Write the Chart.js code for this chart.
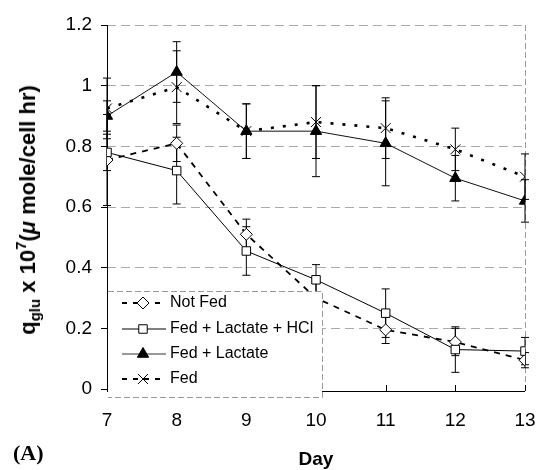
<!DOCTYPE html>
<html>
<head>
<meta charset="utf-8">
<script src="https://cdn.jsdelivr.net/npm/chart.js@4.4.1/dist/chart.umd.min.js"></script>
<style>
html,body{margin:0;padding:0;background:#fff;}
#wrap{position:relative;width:537px;height:470px;}
#ytitle{position:absolute;left:28px;top:210px;transform:translate(-50%,-50%) rotate(-90deg);white-space:nowrap;font:bold 22px "Liberation Sans",Arial,sans-serif;color:#000;}
#ytitle sub{font-size:15px;vertical-align:-5px;line-height:0;}
#ytitle sup{font-size:15px;vertical-align:9px;line-height:0;}
#xtitle{position:absolute;left:316px;top:459px;transform:translate(-50%,-50%);font:bold 19px "Liberation Sans",Arial,sans-serif;}
#panel{position:absolute;left:13px;top:453px;transform:translateY(-50%);font:bold 22px "Liberation Serif","Times New Roman",serif;}
</style>
</head>
<body>
<div id="wrap">
<canvas id="c" width="537" height="470"></canvas>
<div id="ytitle">q<sub>glu</sub> x 10<sup>7</sup>(<i>μ</i> mole/cell hr)</div>
<div id="xtitle">Day</div>
<div id="panel">(A)</div>
</div>
<script>
const days = [7, 8, 9, 10, 11, 12, 13];
const seriesNames = ["Not Fed", "Fed + Lactate + HCl", "Fed + Lactate", "Fed"];
const notFed      = [0.755, 0.81, 0.51, 0.30, 0.195, 0.155, 0.095];
const fedLacHCl   = [0.78, 0.72, 0.455, 0.36, 0.25, 0.13, 0.125];
const fedLac      = [0.90, 1.045, 0.85, 0.85, 0.81, 0.695, 0.62];
const fed         = [0.925, 0.995, 0.85, 0.88, 0.86, 0.79, 0.70];
const errNotFed    = [0.15, 0.06, 0.05, 0.05, 0.045, 0.045, 0.025];
const errFedLacHCl = [0.06, 0.11, 0.08, 0.05, 0.08, 0.075, 0.045];
const errFedLac    = [0.05, 0.10, 0.09, 0.15, 0.14, 0.075, 0.07];
const errFed       = [0.10, 0.12, 0.09, 0.12, 0.10, 0.07, 0.075];
const yTicks = [0, 0.2, 0.4, 0.6, 0.8, 1, 1.2];

const pts = arr => arr.map((v, i) => ({x: days[i], y: v}));
const FONT = '"Liberation Sans", Arial, sans-serif';

const datasets = [
  {label: seriesNames[0], data: pts(notFed), err: errNotFed, borderColor:'#000', borderWidth:1.8, borderDash:[6,6],
   pointStyle:'rectRot', pointRadius:6, pointBackgroundColor:'#fff', pointBorderColor:'#000', pointBorderWidth:1, order:4, legendLine:'#000'},
  {label: seriesNames[1], data: pts(fedLacHCl), err: errFedLacHCl, borderColor:'#000', borderWidth:1,
   pointStyle:'rect', pointRadius:6, pointBackgroundColor:'#fff', pointBorderColor:'#000', pointBorderWidth:1, order:3, legendLine:'#000'},
  {label: seriesNames[2], data: pts(fedLac), err: errFedLac, borderColor:'#111', borderWidth:1,
   pointStyle:'triangle', pointRadius:6.5, pointBackgroundColor:'#000', pointBorderColor:'#000', pointBorderWidth:1, order:2, legendLine:'#999'},
  {label: seriesNames[3], data: pts(fed), err: errFed, borderColor:'#000', borderWidth:2.6, borderDash:[3,9],
   pointStyle:'crossRot', pointRadius:7, pointBackgroundColor:'#000', pointBorderColor:'#000', pointBorderWidth:1, order:1, legendLine:'#000'}
];
datasets.forEach(d => { d.fill = false; d.tension = 0; d.pointHoverRadius = d.pointRadius; });

const errorBars = {
  id: 'errorBars',
  beforeDatasetsDraw(chart) {
    const ctx = chart.ctx, xs = chart.scales.x, ys = chart.scales.y, ca = chart.chartArea;
    ctx.save();
    ctx.strokeStyle = '#000';
    ctx.lineWidth = 1;
    ctx.setLineDash([]);
    ctx.beginPath();
    ctx.moveTo(Math.round(ca.left) + 0.5, ca.top); ctx.lineTo(Math.round(ca.left) + 0.5, ca.bottom + 2);
    ctx.moveTo(ca.left, Math.round(ca.bottom) + 2.5); ctx.lineTo(ca.right, Math.round(ca.bottom) + 2.5);
    ctx.stroke();
    chart.data.datasets.forEach(ds => {
      ds.data.forEach((p, j) => {
        const e = ds.err[j];
        const x = xs.getPixelForValue(p.x);
        const yt = ys.getPixelForValue(p.y + e);
        const yb = ys.getPixelForValue(p.y - e);
        ctx.beginPath();
        ctx.moveTo(x, yt); ctx.lineTo(x, yb);
        ctx.moveTo(x - 4, yt); ctx.lineTo(x + 4, yt);
        ctx.moveTo(x - 4, yb); ctx.lineTo(x + 4, yb);
        ctx.stroke();
      });
    });
    ctx.restore();
  }
};

const extras = {
  id: 'extras',
  afterDraw(chart) {
    const ctx = chart.ctx, ca = chart.chartArea, xs = chart.scales.x;
    ctx.save();
    ctx.strokeStyle = '#000'; ctx.lineWidth = 1;
    days.forEach(d => {
      const x = Math.round(xs.getPixelForValue(d)) + 0.5;
      ctx.beginPath(); ctx.moveTo(x, ca.bottom + 2); ctx.lineTo(x, ca.bottom - 4); ctx.stroke();
    });
    const bx = ca.left + 1, by = ca.bottom - 98, bw = 214, bh = 106;
    ctx.fillStyle = '#fff';
    ctx.fillRect(bx, by, bw, bh);
    ctx.strokeStyle = '#999'; ctx.setLineDash([6,3]); ctx.lineWidth = 1;
    ctx.beginPath();
    ctx.moveTo(bx, by + 0.5); ctx.lineTo(bx + bw + 0.5, by + 0.5);
    ctx.lineTo(bx + bw + 0.5, by + bh + 0.5); ctx.lineTo(bx, by + bh + 0.5);
    ctx.stroke();
    ctx.setLineDash([]);
    const rowY = [12, 38, 63, 88];
    chart.data.datasets.forEach((ds, i) => {
      const y = by + rowY[i];
      ctx.save();
      ctx.strokeStyle = ds.legendLine;
      ctx.lineWidth = ds.label === 'Fed + Lactate' ? 2 : Math.min(ds.borderWidth, 1.8);
      ctx.setLineDash(ds.borderDash ? [5,6] : []);
      ctx.beginPath(); ctx.moveTo(bx + 14, y); ctx.lineTo(bx + 58, y); ctx.stroke();
      ctx.restore();
      ctx.save();
      ctx.strokeStyle = '#000'; ctx.fillStyle = ds.pointBackgroundColor; ctx.lineWidth = 1;
      Chart.helpers.drawPoint(ctx, {pointStyle: ds.pointStyle, radius: ds.pointRadius, rotation: 0, borderWidth: 1}, bx + 35, y);
      ctx.restore();
      ctx.fillStyle = '#000';
      ctx.font = '16px ' + FONT;
      ctx.textBaseline = 'middle';
      ctx.textAlign = 'left';
      ctx.fillText(ds.label, bx + 62, y);
    });
    ctx.restore();
  }
};

new Chart(document.getElementById('c'), {
  type: 'line',
  data: {datasets},
  options: {
    responsive: false,
    animation: false,
    events: [],
    layout: {padding: {left: 0, top: 25, right: 12, bottom: 0}},
    plugins: {legend: {display: false}, tooltip: {enabled: false}},
    scales: {
      x: {
        type: 'linear', min: 7, max: 13,
        afterFit: s => { s.height = 81; s.paddingRight = 0; s.paddingLeft = 0; },
        ticks: {stepSize: 1, padding: 20, color: '#000', font: {family: FONT, size: 19}},
        grid: {drawTicks: false, color: c => (c.tick && c.tick.value === 13) ? '#999' : 'rgba(0,0,0,0)', lineWidth: 1},
        border: {display: false, dash: [6,3]}
      },
      y: {
        min: 0, max: 1.2,
        afterFit: s => { s.width = 107; s.paddingTop = 0; s.paddingBottom = 0; },
        afterBuildTicks: s => { s.ticks = yTicks.map(v => ({value: v})); },
        ticks: {padding: 9, color: '#000', font: {family: FONT, size: 19},
                callback: v => String(Number(v.toFixed(1)))},
        grid: {drawTicks: true, tickLength: 6, tickColor: '#000', tickBorderDash: [],
               color: c => (c.tick && c.tick.value === 0) ? 'rgba(0,0,0,0)' : '#aaa', lineWidth: 1},
        border: {display: false, dash: [9,5]}
      }
    }
  },
  plugins: [errorBars, extras]
});
</script>
</body>
</html>
